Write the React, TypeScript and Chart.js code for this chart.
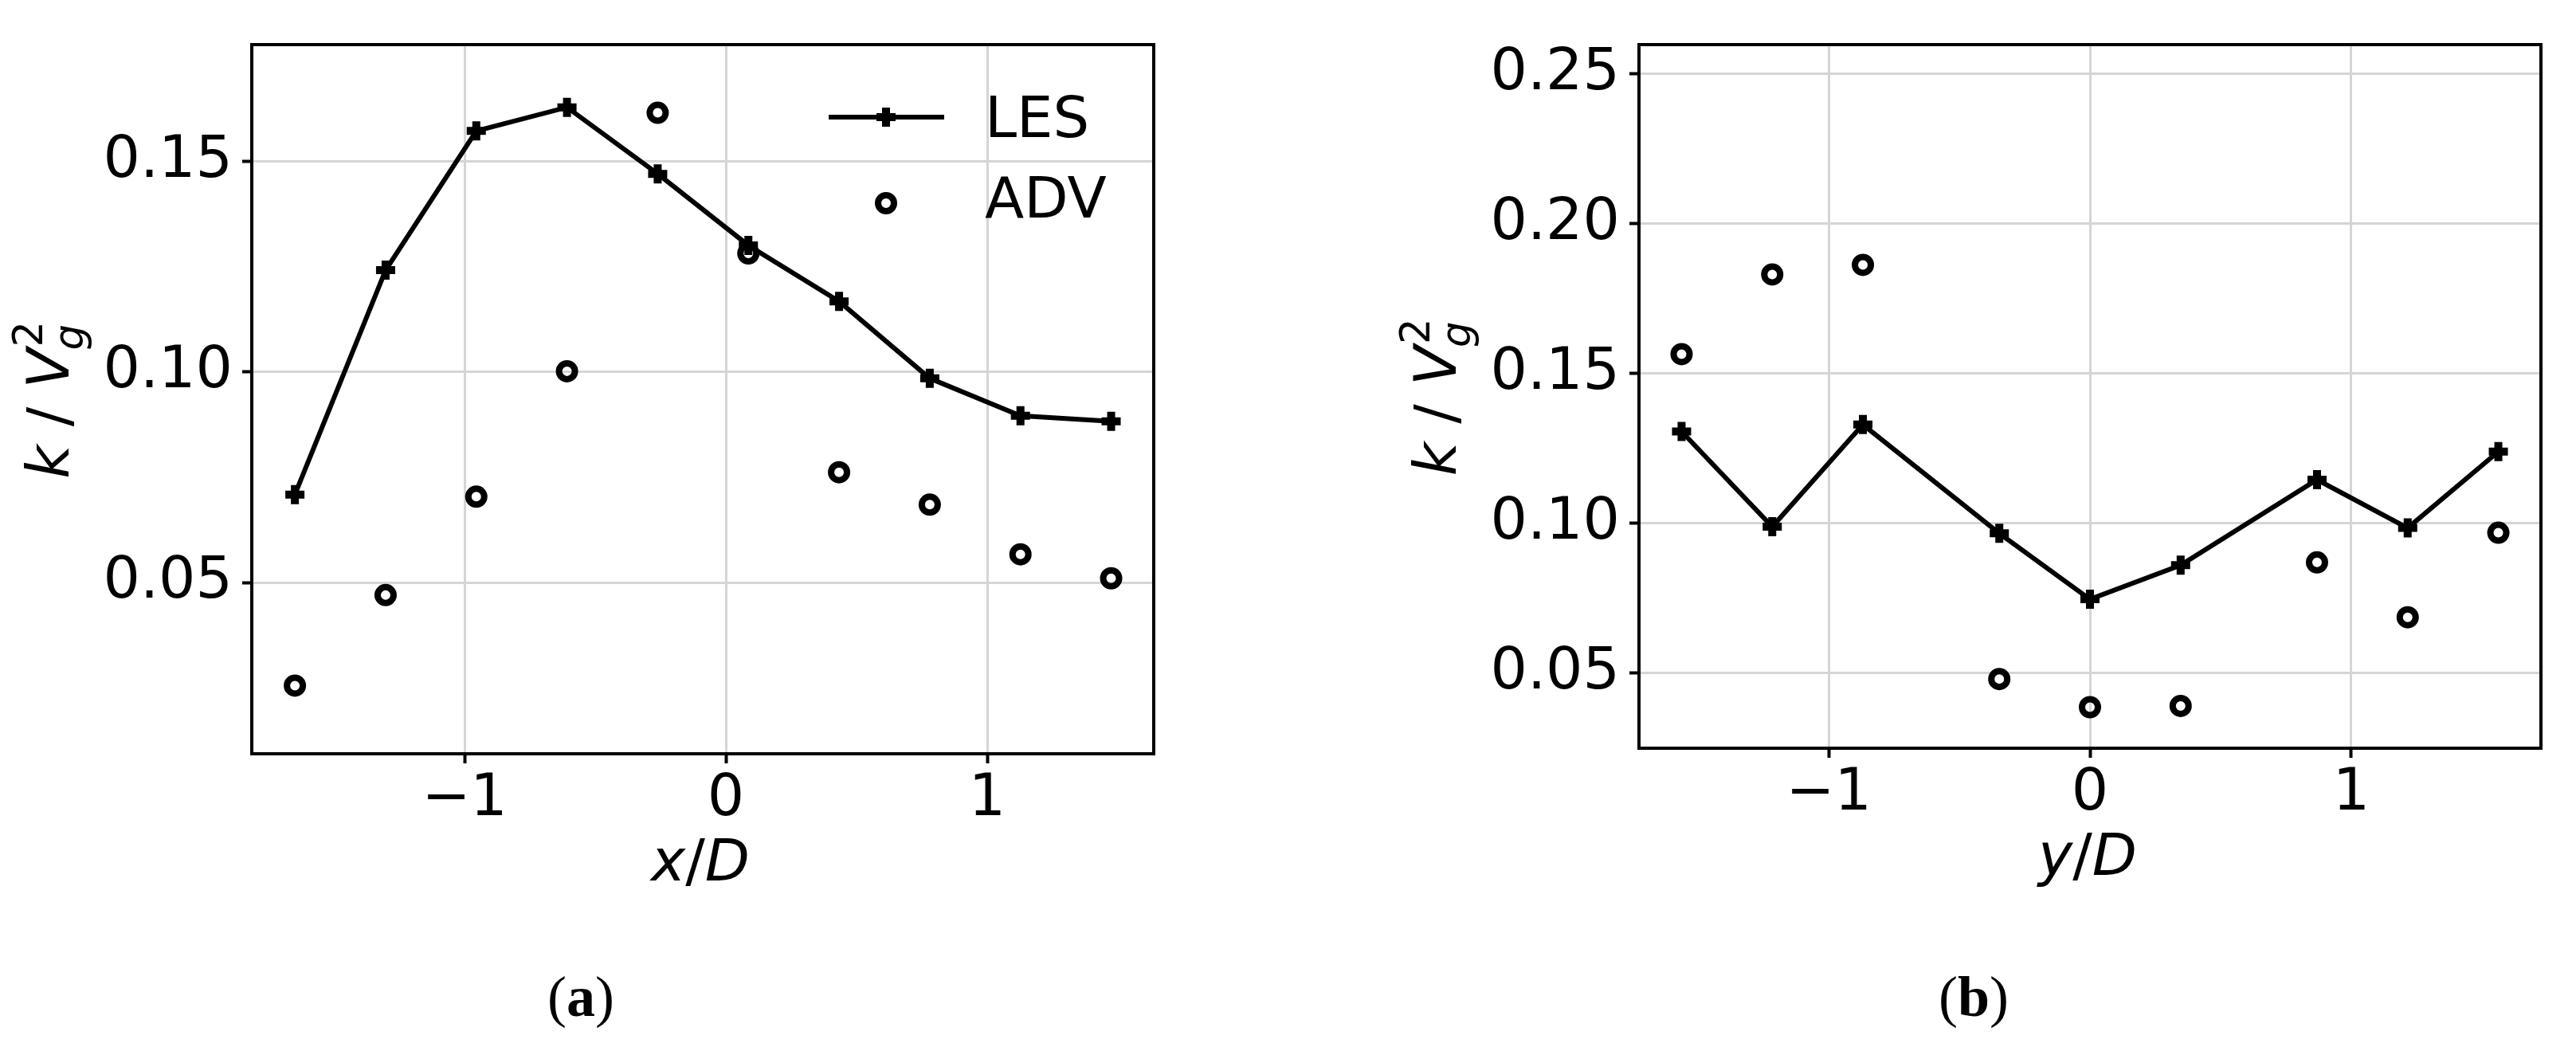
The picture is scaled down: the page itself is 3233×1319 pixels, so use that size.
import React, { useEffect, useRef } from "react";
import { Chart, registerables } from "chart.js";

Chart.register(...registerables);

// ---------- data ----------
const xPosA = [-1.649, -1.302, -0.955, -0.608, -0.261, 0.086, 0.433, 0.78, 1.127, 1.474];
const lesA = [0.0709, 0.1242, 0.1573, 0.1629, 0.1471, 0.1301, 0.1168, 0.0985, 0.0896, 0.0883];
const advA = [0.0255, 0.047, 0.0704, 0.1002, 0.1616, 0.1282, 0.0762, 0.0685, 0.0567, 0.051];

const yPosB = [-1.563, -1.216, -0.869, -0.347, 0, 0.347, 0.869, 1.216, 1.563];
const lesB = [0.1307, 0.0989, 0.133, 0.0967, 0.0747, 0.0861, 0.1146, 0.0985, 0.124];
const advB = [0.1565, 0.1831, 0.1863, 0.0481, 0.0387, 0.0391, 0.087, 0.0687, 0.0969];

const xTicks = [-1, 0, 1];
const yTicksA = [0.05, 0.1, 0.15];
const yTicksB = [0.05, 0.1, 0.15, 0.2, 0.25];
const seriesNames = ["LES", "ADV"];
const captions = ["a", "b"];
const xVars = ["x", "y"];

// ---------- layout / style ----------
const H = 1319;
const FONT = "'DejaVu Sans'";
const TICK_SIZE = 73;
const GRID = "#d5d5d5";
const LINE_W = 6;

type Panel = {
  pageLeft: number;
  canvasW: number;
  area: { l: number; r: number; t: number; b: number };
  xMin: number;
  xMax: number;
  yMin: number;
  yMax: number;
  xs: number[];
  les: number[];
  adv: number[];
  yTicks: number[];
  xVar: string;
  caption: string;
  captionX: number;
  yTitleX: number;
  showLegend: boolean;
};

const panels: Panel[] = [
  {
    pageLeft: 0,
    canvasW: 1640,
    area: { l: 316, r: 1448, t: 56, b: 946 },
    xMin: -1.814,
    xMax: 1.637,
    yMin: 0.0093,
    yMax: 0.1778,
    xs: xPosA,
    les: lesA,
    adv: advA,
    yTicks: yTicksA,
    xVar: xVars[0],
    caption: captions[0],
    captionX: 729,
    yTitleX: 86,
    showLegend: true,
  },
  {
    pageLeft: 1640,
    canvasW: 1593,
    area: { l: 417, r: 1549, t: 56, b: 939 },
    xMin: -1.726,
    xMax: 1.726,
    yMin: 0.025,
    yMax: 0.2598,
    xs: yPosB,
    les: lesB,
    adv: advB,
    yTicks: yTicksB,
    xVar: xVars[1],
    caption: captions[1],
    captionX: 2477 - 1640,
    yTitleX: 187,
    showLegend: false,
  },
];

function drawPlus(ctx: CanvasRenderingContext2D, x: number, y: number, r: number, w: number) {
  ctx.save();
  ctx.lineCap = "butt";
  ctx.lineWidth = w;
  ctx.strokeStyle = "#000";
  ctx.beginPath();
  ctx.moveTo(x - r, y);
  ctx.lineTo(x + r, y);
  ctx.moveTo(x, y - r);
  ctx.lineTo(x, y + r);
  ctx.stroke();
  ctx.restore();
}

function drawRing(ctx: CanvasRenderingContext2D, x: number, y: number, r: number, w: number) {
  ctx.save();
  ctx.lineWidth = w;
  ctx.strokeStyle = "#000";
  ctx.beginPath();
  ctx.arc(x, y, r, 0, Math.PI * 2);
  ctx.stroke();
  ctx.restore();
}

function drawYTitle(ctx: CanvasRenderingContext2D, baseX: number, centerY: number, size: number) {
  const it = `italic ${size}px ${FONT}`;
  const rg = `${size}px ${FONT}`;
  const ss = Math.round(size * 0.7);
  const itS = `italic ${ss}px ${FONT}`;
  const rgS = `${ss}px ${FONT}`;
  const parts = [
    { t: "k", f: it },
    { t: " / ", f: rg },
    { t: "V", f: it },
  ];
  let total = 0;
  const widths = parts.map((p) => {
    ctx.font = p.f;
    const w = ctx.measureText(p.t).width;
    total += w;
    return w;
  });
  ctx.font = itS;
  const gw = ctx.measureText("g").width;
  ctx.font = rgS;
  const tw = ctx.measureText("2").width;
  total += Math.max(gw, tw);
  ctx.save();
  ctx.translate(baseX, centerY);
  ctx.rotate(-Math.PI / 2);
  ctx.textAlign = "left";
  ctx.textBaseline = "alphabetic";
  ctx.fillStyle = "#000";
  let x = -total / 2;
  parts.forEach((p, i) => {
    ctx.font = p.f;
    ctx.fillText(p.t, x, 0);
    x += widths[i];
  });
  ctx.font = itS;
  ctx.fillText("g", x - 2, size * 0.25);
  ctx.font = rgS;
  ctx.fillText("2", x + 2, -size * 0.45);
  ctx.restore();
}

function drawXTitle(ctx: CanvasRenderingContext2D, cx: number, baseY: number, size: number, v: string) {
  const it = `italic ${size}px ${FONT}`;
  const rg = `${size}px ${FONT}`;
  const parts = [
    { t: v, f: it },
    { t: "/", f: rg },
    { t: "D", f: it },
  ];
  let total = 0;
  const widths = parts.map((p) => {
    ctx.font = p.f;
    const w = ctx.measureText(p.t).width;
    total += w;
    return w;
  });
  ctx.save();
  ctx.textAlign = "left";
  ctx.textBaseline = "alphabetic";
  ctx.fillStyle = "#000";
  let x = cx - total / 2;
  parts.forEach((p, i) => {
    ctx.font = p.f;
    ctx.fillText(p.t, x, baseY);
    x += widths[i];
  });
  ctx.restore();
}

function drawCaption(ctx: CanvasRenderingContext2D, cx: number, baseY: number, letter: string) {
  const size = 72;
  const rg = `${size}px 'Liberation Serif'`;
  const bd = `bold ${size}px 'Liberation Serif'`;
  const parts = [
    { t: "(", f: rg },
    { t: letter, f: bd },
    { t: ")", f: rg },
  ];
  let total = 0;
  const widths = parts.map((p) => {
    ctx.font = p.f;
    const w = ctx.measureText(p.t).width;
    total += w;
    return w;
  });
  ctx.save();
  ctx.textAlign = "left";
  ctx.textBaseline = "alphabetic";
  ctx.fillStyle = "#000";
  let x = cx - total / 2;
  parts.forEach((p, i) => {
    ctx.font = p.f;
    ctx.fillText(p.t, x, baseY);
    x += widths[i];
  });
  ctx.restore();
}

function makeOverlay(p: Panel) {
  return {
    id: "overlay" + p.caption,
    afterDraw(chart: any) {
      const ctx: CanvasRenderingContext2D = chart.ctx;
      const a = chart.chartArea;
      ctx.save();
      ctx.strokeStyle = "#000";
      ctx.lineWidth = 4;
      ctx.strokeRect(a.left, a.top, a.right - a.left, a.bottom - a.top);
      drawYTitle(ctx, p.yTitleX, (a.top + a.bottom) / 2 + 2, TICK_SIZE);
      drawXTitle(ctx, (a.left + a.right) / 2 - 3, a.bottom + 159, TICK_SIZE, p.xVar);
      if (p.showLegend) {
        const lx0 = 1040;
        const lx1 = 1185;
        const mx = 1112;
        const y1 = 147;
        const y2 = 255;
        ctx.strokeStyle = "#000";
        ctx.lineWidth = LINE_W;
        ctx.beginPath();
        ctx.moveTo(lx0, y1);
        ctx.lineTo(lx1, y1);
        ctx.stroke();
        drawPlus(ctx, mx, y1, 12, 10);
        drawRing(ctx, mx, y2, 10, 8);
        ctx.fillStyle = "#000";
        ctx.font = `72px ${FONT}`;
        ctx.textAlign = "left";
        ctx.textBaseline = "alphabetic";
        ctx.fillText(chart.data.datasets[0].label, 1236, 172);
        ctx.fillText(chart.data.datasets[1].label, 1236, 273);
      }
      drawCaption(ctx, p.captionX, 1275, p.caption);
      ctx.restore();
    },
  };
}

const fmtX = (v: number) => (v < 0 ? "\u2212" + Math.abs(v) : String(v));

function PanelChart({ p }: { p: Panel }) {
  const ref = useRef<HTMLCanvasElement | null>(null);
  useEffect(() => {
    if (!ref.current) return;
    const tickFont = { family: FONT, size: TICK_SIZE };
    const chart = new Chart(ref.current, {
      type: "scatter",
      data: {
        datasets: [
          {
            label: seriesNames[0],
            data: p.xs.map((x, i) => ({ x, y: p.les[i] })),
            showLine: true,
            borderColor: "#000",
            borderWidth: LINE_W,
            pointStyle: "cross",
            pointRadius: 12,
            pointBorderWidth: 10,
            pointBorderColor: "#000",
            pointBackgroundColor: "#000",
            order: 1,
          },
          {
            label: seriesNames[1],
            data: p.xs.map((x, i) => ({ x, y: p.adv[i] })),
            showLine: false,
            pointStyle: "circle",
            pointRadius: 10,
            pointBorderWidth: 8,
            pointBorderColor: "#000",
            pointBackgroundColor: "rgba(0,0,0,0)",
            order: 0,
          },
        ],
      },
      options: {
        animation: false,
        responsive: false,
        devicePixelRatio: 1,
        events: [],
        layout: { padding: { left: 0, top: p.area.t, right: p.canvasW - p.area.r, bottom: 0 } },
        plugins: { legend: { display: false }, tooltip: { enabled: false }, title: { display: false } },
        scales: {
          x: {
            type: "linear",
            position: "bottom",
            bounds: "data",
            min: p.xMin,
            max: p.xMax,
            afterBuildTicks: (s: any) => {
              s.ticks = xTicks.map((v) => ({ value: v }));
            },
            afterFit: (s: any) => {
              s.height = H - p.area.b;
            },
            ticks: {
              callback: (v: any) => fmtX(Number(v)),
              font: tickFont,
              color: "#000",
              padding: 2,
              maxRotation: 0,
              autoSkip: false,
            },
            grid: { color: GRID, lineWidth: 3, tickColor: "#000", tickWidth: 4, tickLength: 12 },
            border: { display: false },
          },
          y: {
            type: "linear",
            position: "left",
            bounds: "data",
            min: p.yMin,
            max: p.yMax,
            afterBuildTicks: (s: any) => {
              s.ticks = p.yTicks.map((v) => ({ value: v }));
            },
            afterFit: (s: any) => {
              s.width = p.area.l;
            },
            ticks: {
              callback: (v: any) => Number(v).toFixed(2),
              font: tickFont,
              color: "#000",
              padding: 12,
              autoSkip: false,
            },
            grid: { color: GRID, lineWidth: 3, tickColor: "#000", tickWidth: 4, tickLength: 12 },
            border: { display: false },
          },
        },
      } as any,
      plugins: [makeOverlay(p)],
    });
    return () => chart.destroy();
  }, [p]);
  return (
    <canvas
      ref={ref}
      width={p.canvasW}
      height={H}
      style={{ position: "absolute", left: p.pageLeft, top: 0, width: p.canvasW, height: H }}
    />
  );
}

export default function App() {
  return (
    <div style={{ position: "absolute", left: 0, top: 0, width: 3233, height: H, background: "#fff", overflow: "hidden" }}>
      {panels.map((p) => (
        <PanelChart key={p.caption} p={p} />
      ))}
    </div>
  );
}
